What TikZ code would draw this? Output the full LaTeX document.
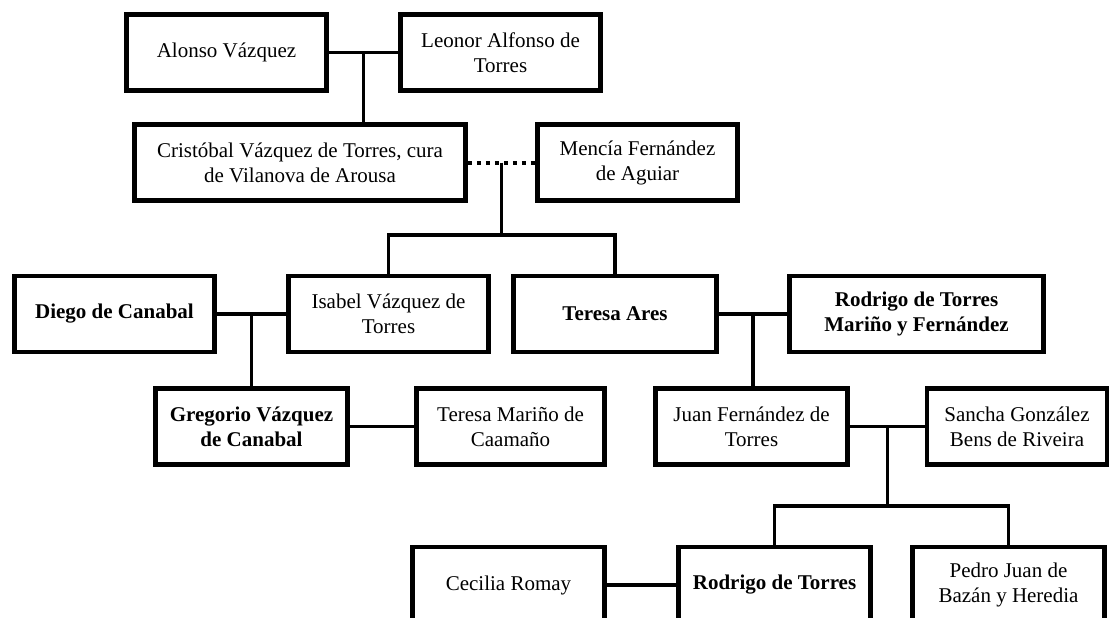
\documentclass[tikz,border=0pt]{standalone}
\usepackage{fontspec}
\setmainfont{Liberation Serif}
\usetikzlibrary{calc}
\tikzset{every node/.append style={execute at begin node={\hyphenpenalty=10000\exhyphenpenalty=10000\relax}}}

\begin{document}
\begin{tikzpicture}[x=1pt, y=-1pt, font=\fontsize{21}{25}\selectfont,
  persona/.style={draw, line width=4.5pt, inner sep=0pt, minimum height=76pt, align=center},
  titular/.style={persona, font=\fontsize{21}{25}\selectfont\bfseries},
  enlace/.style={line width=3.5pt},
  union/.style={line width=4pt, dash pattern=on 4pt off 5pt}]
  \useasboundingbox (0,0) rectangle (1111,618);
  \fill[white] (0,0) rectangle (1111,618);
  \clip (0,0) rectangle (1111,618);

  % primera generacion
  \node[persona, minimum width=200pt] (alonso) at (226.5,52.5) {Alonso Vázquez};
  \node[persona, minimum width=200pt] (leonor) at (500.5,52.5) {Leonor Alfonso de\\Torres};
  \node[persona, minimum width=331pt] (cristobal) at (300,162.5) {Cristóbal Vázquez de Torres, cura\\de Vilanova de Arousa};
  \node[persona, minimum width=200pt] (mencia) at (637.5,162.5) {Mencía Fernández\\de Aguiar};

  % hijos
  \node[titular, minimum width=200pt] (diego) at (114.5,314) {Diego de Canabal};
  \node[persona, minimum width=200pt] (isabel) at (388.5,314) {Isabel Vázquez de\\Torres};
  \node[titular, minimum width=203pt] (teresa) at (615,314) {Teresa Ares};
  \node[titular, minimum width=254pt] (rodrigoMF) at (916.5,314) {Rodrigo de Torres\\Mariño y Fernández};

  \node[titular, minimum width=192pt] (gregorio) at (251.5,426.5) {Gregorio Vázquez\\de Canabal};
  \node[persona, minimum width=188pt] (teresaM) at (510.5,426.5) {Teresa Mariño de\\Caamaño};
  \node[persona, minimum width=192pt] (juan) at (751.5,426.5) {Juan Fernández de\\Torres};
  \node[persona, minimum width=180pt] (sancha) at (1017,426.5) {Sancha González\\Bens de Riveira};

  \node[persona, minimum width=192pt] (cecilia) at (508.5,585) {Cecilia Romay};
  \node[titular, minimum width=192pt] (rodrigo) at (774.5,585) {Rodrigo de Torres};
  \node[persona, minimum width=192pt] (pedro) at (1008.5,585) {Pedro Juan de\\Bazán y Heredia};

  % uniones y descendencia
  \coordinate (m1) at ($(alonso.east)!0.5!(leonor.west)$);
  \coordinate (m2) at ($(cristobal.east)!0.5!(mencia.west)$);
  \coordinate (m3) at ($(diego.east)!0.5!(isabel.west)$);
  \coordinate (m4) at ($(teresa.east)!0.5!(rodrigoMF.west)$);
  \coordinate (m5) at ($(juan.east)!0.5!(sancha.west)$);

  \draw[enlace] (alonso) -- (leonor);
  \draw[enlace] (m1) -- (m1 |- cristobal.north);
  \draw[union] (cristobal) -- (mencia);
  \draw[enlace] (m2) -- (m2 |- 0,235);
  \draw[enlace] (isabel.north) |- (m2 |- 0,235) -| (teresa.north);
  \draw[enlace] (diego) -- (isabel);
  \draw[enlace] (m3) -- (m3 |- gregorio.north);
  \draw[enlace] (gregorio) -- (teresaM);
  \draw[enlace] (teresa) -- (rodrigoMF);
  \draw[enlace] (m4) -- (m4 |- juan.north);
  \draw[enlace] (juan) -- (sancha);
  \draw[enlace] (m5) -- (m5 |- 0,506);
  \draw[enlace] (rodrigo.north) |- (m5 |- 0,506) -| (pedro.north);
  \draw[enlace] (cecilia) -- (rodrigo);
\end{tikzpicture}
\end{document}
